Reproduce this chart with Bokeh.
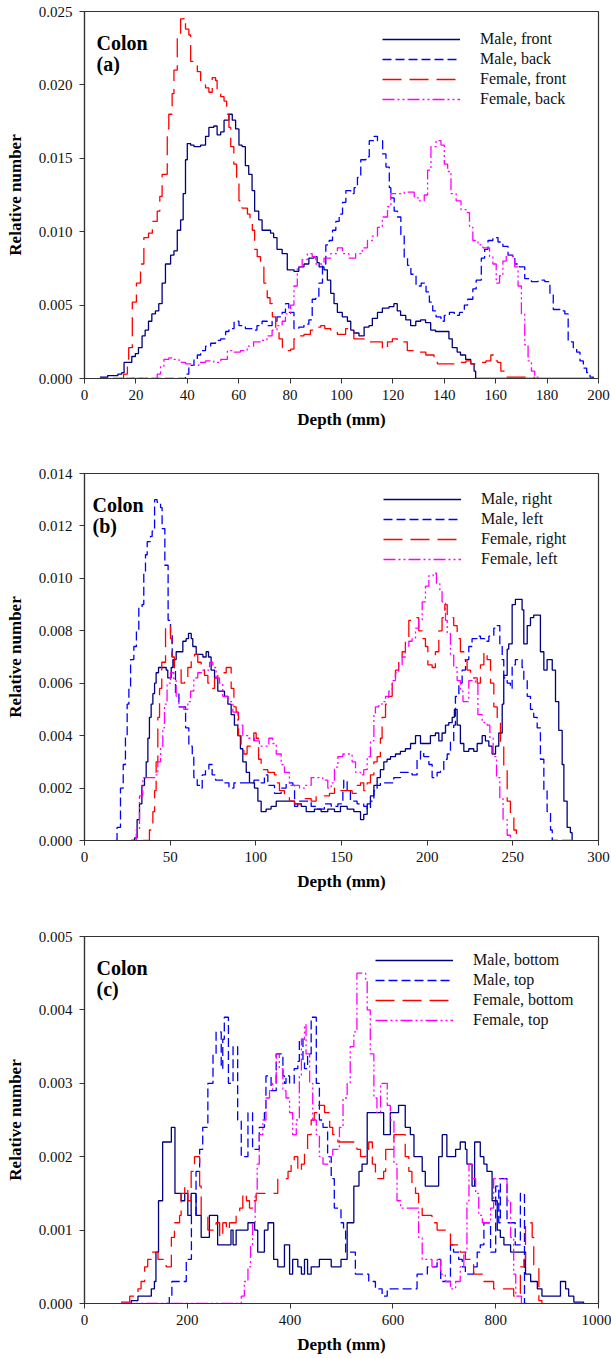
from bokeh.plotting import figure
from bokeh.models import Range1d, Legend, LegendItem, Label, NumeralTickFormatter, FixedTicker
from bokeh.layouts import column
from bokeh.embed import file_html
from bokeh.resources import INLINE

# ---------------- Panel (a): front / back ----------------
A_MALE_FRONT_X = [6, 9, 13, 14.5, 15.4, 18.4, 19.8, 21, 22.4, 23.6, 24.9, 26.2, 27.6, 28.9, 30.2, 31.5, 33.5, 34.8, 36.1, 37.4, 38.4, 39.3, 40, 41.3, 42.6, 45.2, 47.1, 48.4, 50.3, 51.6, 53, 54.3, 56.2, 57.5, 58.8, 60.1, 61.3, 62.6, 63.9, 65.2, 66.2, 67.8, 69.1, 72.4, 73.6, 74.9, 76.9, 78.9, 81.5, 83.4, 85.4, 87.3, 89.3, 90.5, 91.3, 93.2, 94.5, 95.8, 97.1, 98.4, 100.3, 102.3, 103.6, 104.8, 106.8, 108.8, 110.7, 112, 114, 115.9, 118.5, 120.4, 121.7, 123, 125, 126.9, 128.9, 130.8, 132.7, 134.7, 136.6, 141.8, 143.1, 145, 146.3, 148.3, 150.3, 151.6, 152.2, 197]
A_MALE_FRONT_Y = [0.0001, 0.0002, 0.0003, 0.0004, 0.0011, 0.0015, 0.0017, 0.0021, 0.0029, 0.0033, 0.0039, 0.0044, 0.0046, 0.0051, 0.0065, 0.0078, 0.0084, 0.0087, 0.0101, 0.0108, 0.0126, 0.0149, 0.0160, 0.0159, 0.0158, 0.0159, 0.0165, 0.0171, 0.0172, 0.0166, 0.0168, 0.0176, 0.0180, 0.0176, 0.0170, 0.0159, 0.0158, 0.0145, 0.0139, 0.0128, 0.0114, 0.0108, 0.0101, 0.0099, 0.0096, 0.0088, 0.0085, 0.0074, 0.0073, 0.0076, 0.0078, 0.0082, 0.0083, 0.0079, 0.0076, 0.0074, 0.0067, 0.0058, 0.0051, 0.0045, 0.0042, 0.0039, 0.0033, 0.0031, 0.0029, 0.0035, 0.0036, 0.0041, 0.0045, 0.0048, 0.0049, 0.0051, 0.0046, 0.0043, 0.0040, 0.0036, 0.0039, 0.0040, 0.0038, 0.0033, 0.0032, 0.0027, 0.0021, 0.0018, 0.0016, 0.0013, 0.0010, 0.0005, 0.0, 0.0]

A_MALE_BACK_X = [6, 39.3, 40.6, 42.6, 43.9, 45.2, 47.1, 49.1, 51, 53, 54.9, 56.2, 58.2, 60.1, 62.6, 65.8, 67.1, 69.1, 71.1, 73, 74.9, 76.9, 78.2, 79.5, 81.5, 83.4, 85.4, 87.3, 88.6, 90, 91.2, 92.6, 93.9, 95.2, 96.5, 97.8, 99.1, 100.4, 101.7, 103.6, 104.9, 106.2, 107.5, 109.5, 110.8, 112.7, 114, 116, 117.3, 118.6, 119.2, 120.5, 121.8, 123.1, 124.4, 125.7, 127, 129, 131, 132.9, 134.2, 135.5, 136.8, 138.7, 140, 142, 143.9, 145.9, 147.8, 149.1, 151.1, 152.4, 154.4, 155.7, 157, 158.9, 160.9, 162.8, 164.8, 167.4, 169.3, 171.3, 173.9, 176.5, 179.1, 181.1, 182.4, 185, 186.9, 188.2, 190.2, 191.5, 192.8, 194.1, 195.4, 196.7, 198]
A_MALE_BACK_Y = [0.0, 0.0003, 0.0009, 0.0013, 0.0016, 0.0019, 0.0022, 0.0024, 0.0026, 0.0027, 0.0032, 0.0034, 0.0039, 0.0036, 0.0034, 0.0033, 0.0036, 0.0039, 0.0036, 0.0039, 0.0042, 0.0045, 0.0051, 0.0045, 0.0034, 0.0035, 0.0037, 0.0040, 0.0054, 0.0056, 0.0065, 0.0078, 0.0091, 0.0094, 0.0101, 0.0107, 0.0112, 0.0120, 0.0128, 0.0126, 0.0130, 0.0137, 0.0149, 0.0151, 0.0162, 0.0165, 0.0162, 0.0153, 0.0144, 0.0130, 0.0123, 0.0114, 0.0110, 0.0098, 0.0082, 0.0077, 0.0071, 0.0063, 0.0065, 0.0059, 0.0052, 0.0046, 0.0042, 0.0039, 0.0043, 0.0045, 0.0043, 0.0045, 0.0050, 0.0054, 0.0061, 0.0067, 0.0082, 0.0088, 0.0094, 0.0096, 0.0093, 0.0090, 0.0084, 0.0078, 0.0076, 0.0068, 0.0066, 0.0067, 0.0066, 0.0058, 0.0047, 0.0046, 0.0044, 0.0025, 0.0021, 0.0018, 0.0012, 0.0007, 0.0004, 0.0001, 0.0]

A_FEMALE_FRONT_X = [14, 15.2, 16.7, 17.2, 18.6, 20.2, 21.8, 23.1, 24.9, 26.4, 28.3, 29.3, 30.2, 32.2, 32.8, 34.1, 34.8, 36.1, 37.4, 38.7, 39.3, 40.6, 41.3, 42.6, 43.9, 45.2, 47.1, 48.4, 49.7, 51, 51.6, 53, 54.3, 55.3, 56.2, 56.9, 58.1, 59.2, 60.1, 61.3, 63.4, 64.4, 65.3, 66.2, 67.2, 68.5, 69.8, 71.1, 72.2, 73.1, 74.4, 75.7, 77, 78.9, 80.2, 81.5, 82.8, 85.4, 87.9, 90.5, 91.9, 93.5, 95.8, 98.4, 101.6, 104.8, 108.8, 112.7, 115.9, 117.9, 119.8, 121.7, 125.6, 129.5, 132.8, 136, 137.3, 145, 148.4, 150.3, 152.9, 156.2, 158.1, 159.4, 160.7, 162, 163.3, 175]
A_FEMALE_FRONT_Y = [0.0, 0.0003, 0.0012, 0.0021, 0.0052, 0.0065, 0.0078, 0.0096, 0.0099, 0.0107, 0.0114, 0.0124, 0.0139, 0.0170, 0.0180, 0.0194, 0.0210, 0.0235, 0.0245, 0.0246, 0.0238, 0.0234, 0.0216, 0.0213, 0.0209, 0.0200, 0.0198, 0.0195, 0.0205, 0.0203, 0.0196, 0.0192, 0.0189, 0.0180, 0.0171, 0.0158, 0.0146, 0.0135, 0.0121, 0.0116, 0.0112, 0.0107, 0.0101, 0.0088, 0.0083, 0.0076, 0.0065, 0.0055, 0.0051, 0.0042, 0.0032, 0.0027, 0.0021, 0.0019, 0.0020, 0.0027, 0.0029, 0.0030, 0.0033, 0.0035, 0.0036, 0.0034, 0.0033, 0.0030, 0.0034, 0.0027, 0.0025, 0.0025, 0.0020, 0.0025, 0.0027, 0.0025, 0.0019, 0.0018, 0.0016, 0.0013, 0.0010, 0.0011, 0.0012, 0.0010, 0.0011, 0.0012, 0.0016, 0.0012, 0.0011, 0.0005, 0.0001, 0.0]

A_FEMALE_BACK_X = [18, 28.3, 29.6, 30.9, 32.8, 34.8, 36.8, 39.3, 41.9, 44.5, 47.1, 50.3, 53, 55.6, 58.2, 60.7, 63.3, 65.8, 68.4, 71, 73, 74.9, 76.9, 78.2, 80.2, 81.5, 82.8, 84.7, 86.7, 88.6, 90, 93.2, 95.8, 98.4, 100.4, 102.9, 105.5, 108.1, 110.1, 112, 114, 115.9, 117.9, 119.2, 124.4, 128.3, 130.3, 132.2, 133.5, 134.8, 136.8, 138.7, 140, 141.3, 142.6, 144.6, 146.5, 148.5, 149.8, 151.1, 153.1, 155, 157.6, 158.9, 160.2, 161.5, 162.8, 164.1, 166.1, 167.4, 168.7, 170, 171.3, 172.6, 173.9, 175.2, 176.5]
A_FEMALE_BACK_Y = [0.0, 0.0003, 0.0008, 0.0013, 0.0014, 0.0013, 0.0011, 0.0010, 0.0009, 0.0011, 0.0012, 0.0011, 0.0013, 0.0019, 0.0018, 0.0019, 0.0022, 0.0025, 0.0026, 0.0029, 0.0033, 0.0036, 0.0039, 0.0044, 0.0050, 0.0063, 0.0076, 0.0081, 0.0085, 0.0083, 0.0078, 0.0082, 0.0085, 0.0089, 0.0085, 0.0082, 0.0085, 0.0089, 0.0094, 0.0097, 0.0103, 0.0110, 0.0117, 0.0126, 0.0127, 0.0123, 0.0121, 0.0125, 0.0142, 0.0158, 0.0162, 0.0159, 0.0146, 0.0141, 0.0126, 0.0121, 0.0115, 0.0113, 0.0103, 0.0094, 0.0091, 0.0089, 0.0083, 0.0078, 0.0065, 0.0070, 0.0080, 0.0084, 0.0083, 0.0076, 0.0063, 0.0044, 0.0023, 0.0012, 0.0005, 0.0001, 0.0]

# ---------------- Panel (b): right / left ----------------
B_MALE_RIGHT_X = [27.2, 29.2, 30.7, 32.1, 33.5, 35, 36, 37, 37.9, 38.9, 39.9, 40.9, 41.8, 43.2, 47.7, 48.6, 50.6, 51.6, 53.5, 57.4, 59.3, 60.7, 62.3, 63.2, 65.2, 69.1, 71, 72.4, 73.9, 75.9, 77.8, 81.7, 83.7, 85.6, 87.5, 89.5, 91, 92.4, 94.4, 96.3, 99.2, 101.2, 103.1, 106, 108.9, 111.9, 118.7, 122.6, 126.5, 129.4, 134.2, 138.1, 142, 145.9, 149.4, 153.3, 157.2, 161.1, 163, 165, 166.9, 168.9, 170.8, 172.7, 174.7, 176.6, 178.6, 181.5, 184.4, 187.3, 190.3, 193.2, 196.1, 201.9, 204.8, 206.8, 208.7, 210.7, 212.6, 214.6, 215.9, 217.5, 219.4, 221.4, 224.3, 227.2, 229.2, 232.1, 234, 236, 237.9, 239.9, 241.8, 243.8, 244.7, 246.7, 247.6, 249.6, 251.5, 255.4, 256.4, 258.4, 260.3, 262.2, 266.1, 268.1, 270, 273, 274.9, 276.8, 278.8, 279.8, 281.7, 283.6, 284.6]
B_MALE_RIGHT_Y = [0.0, 0.0001, 0.0008, 0.0014, 0.0021, 0.0024, 0.0030, 0.0039, 0.0047, 0.0052, 0.0056, 0.0060, 0.0064, 0.0066, 0.0065, 0.0062, 0.0066, 0.0069, 0.0072, 0.0076, 0.0077, 0.0079, 0.0077, 0.0074, 0.0071, 0.0070, 0.0072, 0.0070, 0.0065, 0.0062, 0.0057, 0.0055, 0.0052, 0.0048, 0.0044, 0.0040, 0.0035, 0.0030, 0.0026, 0.0022, 0.0020, 0.0015, 0.0011, 0.0012, 0.0013, 0.0015, 0.0015, 0.0014, 0.0013, 0.0011, 0.0012, 0.0011, 0.0012, 0.0011, 0.0013, 0.0012, 0.0011, 0.0008, 0.0010, 0.0014, 0.0017, 0.0021, 0.0024, 0.0027, 0.0030, 0.0031, 0.0032, 0.0033, 0.0034, 0.0035, 0.0037, 0.0040, 0.0037, 0.0040, 0.0041, 0.0038, 0.0041, 0.0044, 0.0045, 0.0047, 0.0050, 0.0044, 0.0037, 0.0034, 0.0035, 0.0034, 0.0037, 0.0040, 0.0038, 0.0036, 0.0033, 0.0036, 0.0041, 0.0052, 0.0063, 0.0073, 0.0075, 0.0090, 0.0092, 0.0088, 0.0075, 0.0082, 0.0085, 0.0086, 0.0072, 0.0065, 0.0069, 0.0065, 0.0053, 0.0042, 0.0029, 0.0015, 0.0005, 0.0003, 0.0]

B_MALE_LEFT_X = [18.1, 19, 21, 22.6, 23.9, 24.9, 25.9, 26.9, 28.8, 30.3, 31.7, 33.6, 34.6, 35.6, 36.6, 38.5, 39.5, 40.9, 42.4, 44.4, 45.3, 46.9, 48.8, 50.2, 51.2, 52.2, 53.1, 55.1, 59, 60.9, 62.9, 63.8, 65.8, 67.7, 68.7, 70.6, 72.6, 74.5, 76.5, 81.4, 84.3, 87.2, 98.9, 102.8, 105, 107, 110.9, 114.8, 117.7, 121.6, 122.6, 124.5, 132.3, 136.2, 140, 144, 147.9, 150.8, 151.3, 153.3, 155.2, 159.1, 163, 165, 166.9, 168.9, 170.8, 172.7, 180.5, 184.4, 191.2, 194.1, 196.1, 198, 201, 202.9, 205.8, 207.8, 209.7, 211.7, 213.6, 215.5, 216.5, 218.5, 220.4, 222.4, 224.3, 226.2, 229.2, 231.1, 234, 236, 238.9, 240.9, 242.4, 243.8, 244.7, 246.7, 248.6, 249.6, 251.5, 255.4, 256.4, 258.4, 260.3, 262.2, 264.2, 266.1, 268.1, 270, 272, 273, 285]
B_MALE_LEFT_Y = [0.0, 0.0005, 0.0020, 0.0029, 0.0040, 0.0052, 0.0058, 0.0069, 0.0074, 0.0080, 0.0089, 0.0090, 0.0102, 0.0109, 0.0114, 0.0116, 0.0118, 0.0130, 0.0129, 0.0127, 0.0119, 0.0105, 0.0084, 0.0079, 0.0069, 0.0066, 0.0056, 0.0051, 0.0043, 0.0036, 0.0033, 0.0024, 0.0021, 0.0020, 0.0025, 0.0027, 0.0029, 0.0025, 0.0023, 0.0022, 0.0020, 0.0022, 0.0023, 0.0022, 0.0025, 0.0021, 0.0018, 0.0020, 0.0022, 0.0021, 0.0013, 0.0015, 0.0013, 0.0012, 0.0014, 0.0013, 0.0014, 0.0020, 0.0023, 0.0019, 0.0015, 0.0014, 0.0013, 0.0012, 0.0015, 0.0019, 0.0021, 0.0022, 0.0024, 0.0026, 0.0025, 0.0031, 0.0034, 0.0032, 0.0029, 0.0024, 0.0026, 0.0027, 0.0031, 0.0033, 0.0038, 0.0044, 0.0055, 0.0060, 0.0065, 0.0069, 0.0074, 0.0077, 0.0078, 0.0077, 0.0076, 0.0078, 0.0081, 0.0082, 0.0075, 0.0069, 0.0062, 0.0060, 0.0058, 0.0067, 0.0069, 0.0066, 0.0061, 0.0055, 0.0050, 0.0047, 0.0043, 0.0031, 0.0019, 0.0011, 0.0004, 0.0, 0.0]

B_FEMALE_RIGHT_X = [34, 37.9, 39.9, 40.9, 41.8, 42.8, 43.8, 45.1, 47.3, 49, 50.2, 51, 52.5, 56.4, 58.4, 60.3, 62.3, 64.2, 66.1, 68.1, 70, 72, 73.9, 75.9, 77.8, 82.7, 85.6, 87.2, 88.5, 89.9, 91.4, 93, 94.9, 96.9, 98.8, 100.2, 101.6, 103.1, 107, 110.9, 112.5, 113.8, 116.7, 119.6, 122.6, 126.5, 132.3, 135.2, 143, 145.9, 148.8, 153.3, 156.2, 159.1, 161.1, 163, 165, 166.9, 168.9, 170.8, 172.7, 173.7, 175.7, 177.6, 179.6, 181.5, 183.4, 185.4, 187.3, 189.3, 193.2, 195.1, 197.1, 199, 200.4, 202.9, 204.8, 206.8, 208.7, 210.3, 211.7, 213.6, 215.5, 217.5, 219.4, 221.4, 223.3, 225.3, 229.2, 231.1, 233.1, 235, 237, 238.9, 240.9, 242.8, 244.7, 246.7, 248.6, 250.6, 252.1]
B_FEMALE_RIGHT_Y = [0.0, 0.0004, 0.0011, 0.0019, 0.0030, 0.0047, 0.0058, 0.0068, 0.0081, 0.0082, 0.0077, 0.0070, 0.0066, 0.0060, 0.0062, 0.0066, 0.0070, 0.0071, 0.0068, 0.0066, 0.0063, 0.0060, 0.0058, 0.0062, 0.0064, 0.0066, 0.0058, 0.0051, 0.0049, 0.0040, 0.0036, 0.0033, 0.0036, 0.0038, 0.0041, 0.0039, 0.0031, 0.0027, 0.0026, 0.0025, 0.0022, 0.0019, 0.0017, 0.0015, 0.0014, 0.0016, 0.0015, 0.0017, 0.0018, 0.0020, 0.0019, 0.0019, 0.0018, 0.0021, 0.0022, 0.0019, 0.0022, 0.0025, 0.0030, 0.0032, 0.0039, 0.0047, 0.0052, 0.0055, 0.0060, 0.0065, 0.0069, 0.0072, 0.0076, 0.0084, 0.0085, 0.0080, 0.0077, 0.0074, 0.0067, 0.0066, 0.0072, 0.0080, 0.0085, 0.0090, 0.0086, 0.0085, 0.0082, 0.0077, 0.0072, 0.0069, 0.0065, 0.0062, 0.0060, 0.0067, 0.0072, 0.0069, 0.0060, 0.0051, 0.0046, 0.0036, 0.0027, 0.0015, 0.0009, 0.0004, 0.0]

B_FEMALE_LEFT_X = [27.2, 30.2, 32.1, 34, 41.2, 42.8, 44.4, 45.7, 46.7, 48.2, 50.2, 52.1, 53.5, 55.1, 58, 60.3, 61.9, 63.8, 66.1, 69.1, 73, 74.9, 76.8, 78.8, 80.7, 83.7, 86.6, 89.5, 92.4, 95.3, 99.2, 102.1, 107.6, 109.9, 111.9, 114.8, 116.7, 119.6, 125.5, 128.4, 132.3, 139.1, 142, 144, 145.9, 147.9, 150.8, 156.2, 158.2, 161.1, 163, 165, 166.9, 168.9, 169.8, 171.8, 173.7, 175.7, 177.6, 179.6, 181.5, 183.4, 185.4, 187.3, 189.3, 191.2, 193.2, 195.1, 197.1, 199, 201, 203.5, 205.4, 207.4, 208.7, 210.7, 211.7, 213.6, 215.5, 217.5, 219.4, 220.9, 224.3, 226.2, 228.2, 229.6, 232.1, 235, 236.6, 238.5, 240.5, 242.4, 244.3, 246.7, 248.6]
B_FEMALE_LEFT_Y = [0.0, 0.0004, 0.0017, 0.0024, 0.0025, 0.0030, 0.0036, 0.0043, 0.0052, 0.0060, 0.0064, 0.0061, 0.0055, 0.0051, 0.0050, 0.0053, 0.0057, 0.0062, 0.0064, 0.0065, 0.0068, 0.0066, 0.0062, 0.0060, 0.0055, 0.0053, 0.0049, 0.0044, 0.0040, 0.0039, 0.0038, 0.0036, 0.0039, 0.0037, 0.0033, 0.0029, 0.0026, 0.0021, 0.0020, 0.0021, 0.0024, 0.0023, 0.0020, 0.0022, 0.0028, 0.0032, 0.0033, 0.0030, 0.0026, 0.0025, 0.0027, 0.0032, 0.0038, 0.0048, 0.0051, 0.0052, 0.0053, 0.0055, 0.0057, 0.0061, 0.0064, 0.0067, 0.0070, 0.0074, 0.0076, 0.0077, 0.0081, 0.0084, 0.0091, 0.0097, 0.0101, 0.0102, 0.0098, 0.0095, 0.0091, 0.0084, 0.0079, 0.0071, 0.0066, 0.0061, 0.0057, 0.0053, 0.0061, 0.0062, 0.0060, 0.0048, 0.0045, 0.0044, 0.0039, 0.0032, 0.0024, 0.0016, 0.0008, 0.0002, 0.0]

# ---------------- Panel (c): bottom / top ----------------
C_MALE_BOTTOM_X = [71, 91, 104, 130, 136, 139, 144, 152, 169, 176, 188, 195, 201, 207.5, 217, 227, 243, 259, 285, 289, 295, 318, 331, 337, 350, 357, 368, 376, 389, 399, 405, 415, 422, 428, 434, 441, 457, 480, 499, 511, 524, 534, 540, 550, 582, 595, 611, 624, 634, 641, 657, 663, 689, 696, 705, 722, 731, 741, 744, 754, 759, 770, 777, 783, 793, 803, 809, 816, 829, 858, 868, 881, 890, 926, 936, 942, 952, 971]
C_MALE_BOTTOM_Y = [0.0, 0.00004, 0.0001, 0.0002, 0.0003, 0.0007, 0.0014, 0.0022, 0.0024, 0.0015, 0.0014, 0.0015, 0.0012, 0.0015, 0.0012, 0.0009, 0.0012, 0.0008, 0.0010, 0.0008, 0.0010, 0.0011, 0.0010, 0.0007, 0.0010, 0.0011, 0.0006, 0.0005, 0.0008, 0.0004, 0.0006, 0.0005, 0.0004, 0.0006, 0.0004, 0.0005, 0.0006, 0.0005, 0.0006, 0.0011, 0.0016, 0.0018, 0.0019, 0.0026, 0.0023, 0.0026, 0.0027, 0.0024, 0.0023, 0.0020, 0.0018, 0.0016, 0.0020, 0.0023, 0.0020, 0.0021, 0.0022, 0.0021, 0.0019, 0.0016, 0.0022, 0.0020, 0.0019, 0.0018, 0.0014, 0.0010, 0.0009, 0.0008, 0.0007, 0.0004, 0.0003, 0.0002, 0.0001, 0.0003, 0.0002, 0.0001, 0.00002, 0.0]

C_MALE_TOP_X = [160, 165, 170, 198, 208, 217, 224, 230, 240, 250, 256, 266, 269, 272, 280, 289, 298, 305, 318, 327, 340, 350, 353, 363, 373, 386, 389, 392, 399, 408, 415, 418, 425, 428, 434, 441, 451, 457, 464, 473, 480, 486, 499, 504, 508, 527, 553, 566, 579, 589, 647, 667, 686, 693, 712, 718, 728, 735, 741, 757, 764, 770, 777, 790, 800, 806, 809, 822, 838, 848, 856, 860]
C_MALE_TOP_Y = [0.0, 0.0001, 0.0003, 0.0006, 0.0012, 0.0018, 0.0021, 0.0024, 0.0030, 0.0034, 0.0037, 0.0032, 0.0036, 0.0039, 0.0030, 0.0035, 0.0025, 0.0020, 0.0026, 0.0021, 0.0024, 0.0026, 0.0031, 0.0029, 0.0034, 0.0031, 0.0030, 0.0031, 0.0030, 0.0032, 0.0033, 0.0036, 0.0033, 0.0032, 0.0034, 0.0039, 0.0030, 0.0025, 0.0024, 0.0020, 0.0017, 0.0013, 0.0011, 0.0010, 0.0007, 0.0004, 0.0003, 0.0002, 0.0001, 0.0002, 0.0004, 0.0005, 0.0006, 0.0003, 0.0008, 0.0007, 0.0006, 0.0005, 0.0004, 0.0005, 0.0007, 0.0008, 0.0011, 0.0007, 0.0016, 0.0011, 0.0017, 0.0011, 0.0008, 0.0015, 0.0, 0.0]

C_FEMALE_BOTTOM_X = [71, 88, 104, 110, 117, 123, 130, 143, 159, 169, 175, 185, 188, 195, 201, 207.5, 214, 224, 227, 240, 256, 263, 269, 276, 282, 295, 302, 308, 315, 321, 327, 334, 376, 396, 402, 408, 415, 422, 428, 434, 441, 447, 454, 467, 477, 483, 493, 530, 537, 547, 553, 560, 566, 582, 586, 602, 624, 631, 637, 644, 650, 657, 676, 686, 712, 731, 741, 757, 777, 796, 835, 848, 855, 858, 871, 874, 884, 890]
C_FEMALE_BOTTOM_Y = [0.00002, 0.0001, 0.0002, 0.0003, 0.0005, 0.0006, 0.0007, 0.0006, 0.0005, 0.0009, 0.0011, 0.0012, 0.0015, 0.0016, 0.0014, 0.0018, 0.0020, 0.0016, 0.0012, 0.0010, 0.0011, 0.0009, 0.0011, 0.0010, 0.0011, 0.0012, 0.0013, 0.0015, 0.0014, 0.0013, 0.0014, 0.0015, 0.0017, 0.0018, 0.0019, 0.0020, 0.0018, 0.0019, 0.0021, 0.0023, 0.0025, 0.0026, 0.0027, 0.0026, 0.0024, 0.0023, 0.0022, 0.0021, 0.0020, 0.0021, 0.0022, 0.0019, 0.0017, 0.0018, 0.0021, 0.0023, 0.0020, 0.0018, 0.0016, 0.0015, 0.0013, 0.0012, 0.0011, 0.0010, 0.0008, 0.0007, 0.0006, 0.0004, 0.0003, 0.0002, 0.0001, 0.0005, 0.0006, 0.0011, 0.0009, 0.0005, 0.00004, 0.0]

C_FEMALE_TOP_X = [71, 305, 311, 318, 323, 327, 332, 336, 340, 347, 353, 360, 366, 373, 379, 386, 392, 399, 405, 412, 418, 422, 428, 431, 438, 444, 451, 457, 464, 477, 483, 496, 503, 511, 517, 524, 530, 547, 550, 556, 563, 569, 576, 589, 595, 602, 608, 615, 650, 657, 676, 686, 693, 702, 712, 722, 731, 738, 744, 748, 754, 761, 767, 774, 790, 796, 822, 829, 835, 839, 850]
C_FEMALE_TOP_Y = [0.0, 0.0001, 0.0003, 0.0005, 0.0008, 0.0011, 0.0015, 0.0019, 0.0023, 0.0025, 0.0028, 0.0029, 0.0030, 0.0034, 0.0032, 0.0029, 0.0028, 0.0026, 0.0023, 0.0025, 0.0031, 0.0036, 0.0038, 0.0034, 0.0030, 0.0025, 0.0023, 0.0020, 0.0019, 0.0020, 0.0021, 0.0024, 0.0028, 0.0030, 0.0035, 0.0037, 0.0045, 0.0044, 0.0040, 0.0034, 0.0028, 0.0026, 0.0030, 0.0027, 0.0025, 0.0019, 0.0014, 0.0013, 0.0009, 0.0006, 0.0005, 0.0006, 0.0004, 0.0003, 0.0002, 0.0003, 0.0005, 0.0007, 0.0014, 0.0019, 0.0017, 0.0015, 0.0012, 0.0011, 0.0013, 0.0017, 0.0014, 0.0009, 0.0004, 0.0001, 0.0]

# ---------------- Axes / labels ----------------
A_XTICKS = [0, 20, 40, 60, 80, 100, 120, 140, 160, 180, 200]
A_YTICKS = [0.0, 0.005, 0.010, 0.015, 0.020, 0.025]
B_XTICKS = [0, 50, 100, 150, 200, 250, 300]
B_YTICKS = [0.0, 0.002, 0.004, 0.006, 0.008, 0.010, 0.012, 0.014]
C_XTICKS = [0, 200, 400, 600, 800, 1000]
C_YTICKS = [0.0, 0.001, 0.002, 0.003, 0.004, 0.005]

A_NAMES = ["Male, front", "Male, back", "Female, front", "Female, back"]
B_NAMES = ["Male, right", "Male, left", "Female, right", "Female, left"]
C_NAMES = ["Male, bottom", "Male, top", "Female, bottom", "Female, top"]

COLORS = ["#000080", "#0000FF", "#FF0000", "#FF00FF"]
DASHES = ["solid", "9 4", "19 8", "12 3 2 3 2 3"]

SERIF = "Liberation Serif"


def make_panel(series, names, xmax, ymax, xticks, yticks, tag, height,
               leg_loc, tag_x, border_bottom):
    p = figure(width=611, height=height, output_backend="svg", toolbar_location=None,
               x_range=Range1d(0, xmax), y_range=Range1d(0, ymax),
               min_border_left=84, min_border_right=13, min_border_top=11,
               min_border_bottom=border_bottom)
    p.background_fill_color = "white"
    p.border_fill_color = "white"
    p.outline_line_color = "#333333"
    p.outline_line_width = 1.2
    p.xgrid.visible = False
    p.ygrid.visible = False

    items = []
    for (xs, ys), name, col, dash in zip(series, names, COLORS, DASHES):
        r = p.step(xs, ys, mode="after", line_color=col, line_width=1.3, line_dash=dash)
        items.append(LegendItem(label=name, renderers=[r]))

    leg = Legend(items=items, location=leg_loc, padding=0, spacing=0, margin=0,
                 glyph_width=78, glyph_height=20, label_height=20, label_standoff=20,
                 label_text_font=SERIF, label_text_font_size="16px",
                 label_text_color="#111111",
                 border_line_alpha=0, background_fill_alpha=0)
    p.add_layout(leg)

    for ax in (p.xaxis[0], p.yaxis[0]):
        ax.major_label_text_font = SERIF
        ax.major_label_text_font_size = "15px"
        ax.major_label_text_color = "#111111"
        ax.axis_label_text_font = SERIF
        ax.axis_label_text_font_style = "bold"
        ax.axis_label_text_font_size = "17px"
        ax.axis_label_text_color = "#000000"
        ax.axis_line_color = "#333333"
        ax.axis_line_width = 1.2
        ax.major_tick_line_color = "#333333"
        ax.major_tick_in = 0
        ax.major_tick_out = 5
        ax.minor_tick_line_color = None
    p.xaxis.ticker = FixedTicker(ticks=xticks)
    p.yaxis.ticker = FixedTicker(ticks=yticks)
    p.yaxis.formatter = NumeralTickFormatter(format="0.000")
    p.xaxis.axis_label = "Depth (mm)"
    p.yaxis.axis_label = "Relative number"
    p.xaxis.major_label_standoff = 6
    p.yaxis.major_label_standoff = 7
    p.xaxis.axis_label_standoff = 7
    p.yaxis.axis_label_standoff = 11

    p.add_layout(Label(x=tag_x, y=336, x_units="screen", y_units="screen", text="Colon",
                       text_font=SERIF, text_font_style="bold", text_font_size="20px",
                       text_color="#000000", text_baseline="alphabetic"))
    p.add_layout(Label(x=tag_x, y=315, x_units="screen", y_units="screen", text=tag,
                       text_font=SERIF, text_font_style="bold", text_font_size="20px",
                       text_color="#000000", text_baseline="alphabetic"))
    return p


pa = make_panel([(A_MALE_FRONT_X, A_MALE_FRONT_Y), (A_MALE_BACK_X, A_MALE_BACK_Y),
                 (A_FEMALE_FRONT_X, A_FEMALE_FRONT_Y), (A_FEMALE_BACK_X, A_FEMALE_BACK_Y)],
                A_NAMES, 200, 0.025, A_XTICKS, A_YTICKS, "(a)", 462, (298, 269), 12, 84)
pb = make_panel([(B_MALE_RIGHT_X, B_MALE_RIGHT_Y), (B_MALE_LEFT_X, B_MALE_LEFT_Y),
                 (B_FEMALE_RIGHT_X, B_FEMALE_RIGHT_Y), (B_FEMALE_LEFT_X, B_FEMALE_LEFT_Y)],
                B_NAMES, 300, 0.014, B_XTICKS, B_YTICKS, "(b)", 463, (299, 271), 8, 85)
pc = make_panel([(C_MALE_BOTTOM_X, C_MALE_BOTTOM_Y), (C_MALE_TOP_X, C_MALE_TOP_Y),
                 (C_FEMALE_BOTTOM_X, C_FEMALE_BOTTOM_Y), (C_FEMALE_TOP_X, C_FEMALE_TOP_Y)],
                C_NAMES, 1000, 0.005, C_XTICKS, C_YTICKS, "(c)", 433, (291, 273), 12, 55)

layout = column(pa, pb, pc, spacing=0)
open("out.html", "w").write(file_html(layout, INLINE))
